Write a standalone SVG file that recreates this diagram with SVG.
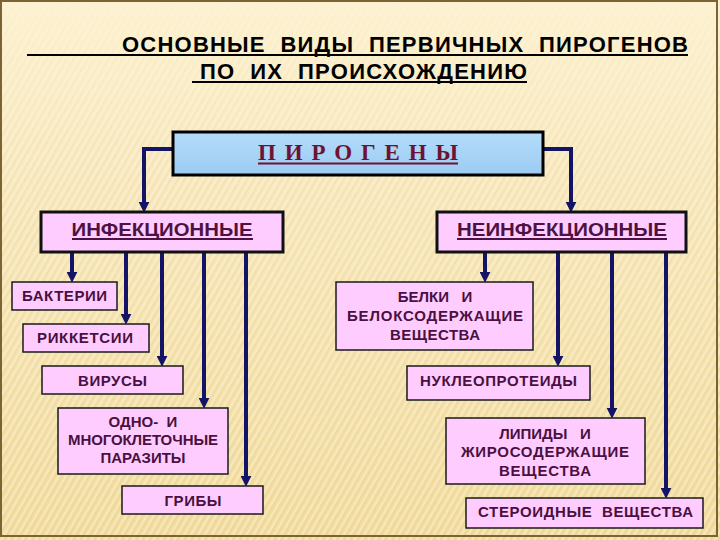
<svg xmlns="http://www.w3.org/2000/svg" width="720" height="540" viewBox="0 0 720 540">
  <defs>
    <linearGradient id="bg" x1="0" y1="0" x2="0" y2="1">
      <stop offset="0" stop-color="#fdf2d2"/>
      <stop offset="0.35" stop-color="#f8e8bc"/>
      <stop offset="1" stop-color="#f2dc9e"/>
    </linearGradient>
    <linearGradient id="blue" x1="0" y1="0" x2="0" y2="1">
      <stop offset="0" stop-color="#b4dcfa"/>
      <stop offset="1" stop-color="#9ccbf2"/>
    </linearGradient>
    <linearGradient id="fade" x1="0" y1="0" x2="0" y2="1">
      <stop offset="0" stop-color="#fff" stop-opacity="0.15"/>
      <stop offset="0.3" stop-color="#fff" stop-opacity="0.8"/>
      <stop offset="1" stop-color="#fff" stop-opacity="1"/>
    </linearGradient>
    <mask id="m">
      <rect x="0" y="0" width="720" height="540" fill="url(#fade)"/>
    </mask>
    <pattern id="stripes" width="6" height="6" patternUnits="userSpaceOnUse" patternTransform="rotate(30)">
      <rect x="0" y="0" width="2" height="6" fill="#ffffff" opacity="0.3"/>
      <rect x="3" y="0" width="1" height="6" fill="#c8a860" opacity="0.15"/>
    </pattern>
    <marker id="arr" viewBox="0 0 10 10" markerWidth="11" markerHeight="11" markerUnits="userSpaceOnUse" refX="2" refY="5" orient="auto">
      <path d="M0,0 L10,5 L0,10 Z" fill="#141466"/>
    </marker>
    <style>
      .title { font-family: "Liberation Sans", Arial, sans-serif; font-weight: bold; font-size: 22px; fill: #000; white-space: pre; }
      .ul { stroke: #000; stroke-width: 2; }
      .box { fill: #ffccff; stroke: #1a1a1a; stroke-width: 1.5; }
      .hbox { fill: #ffccff; stroke: #111; stroke-width: 3; }
      .head { font-family: "Liberation Sans", Arial, sans-serif; font-weight: bold; font-size: 19px; fill: #4e1242; text-anchor: middle; }
      .hul { stroke: #4e1242; stroke-width: 1.8; }
      .lbl { font-family: "Liberation Sans", Arial, sans-serif; font-weight: bold; font-size: 15px; fill: #4a1040; text-anchor: middle; white-space: pre; }
      .conn { fill: none; stroke: #141466; stroke-width: 4; marker-end: url(#arr); }
    </style>
  </defs>

  <rect x="0" y="0" width="720" height="540" fill="url(#bg)"/>
  <rect x="0" y="0" width="720" height="540" fill="url(#stripes)" mask="url(#m)"/>
  <rect x="1" y="1" width="716" height="535" fill="none" stroke="#7a6434" stroke-width="2"/>

  <g id="title">
    <text class="title" x="122" y="52" textLength="566" lengthAdjust="spacing">ОСНОВНЫЕ  ВИДЫ  ПЕРВИЧНЫХ  ПИРОГЕНОВ</text>
    <line class="ul" x1="27" y1="55" x2="688" y2="55"/>
    <text class="title" x="200" y="79" textLength="327" lengthAdjust="spacing">ПО  ИХ  ПРОИСХОЖДЕНИЮ</text>
    <line class="ul" x1="192" y1="82" x2="527" y2="82"/>
  </g>

  <g id="connectors">
    <path class="conn" d="M173,149 H144 V204"/>
    <path class="conn" d="M543,149 H571 V204"/>
    <path class="conn" d="M72,252 V274"/>
    <path class="conn" d="M126,252 V316"/>
    <path class="conn" d="M162,252 V358"/>
    <path class="conn" d="M204,252 V400"/>
    <path class="conn" d="M246,252 V478"/>
    <path class="conn" d="M485,252 V274"/>
    <path class="conn" d="M558,252 V358"/>
    <path class="conn" d="M612,252 V410"/>
    <path class="conn" d="M666,252 V490"/>
  </g>

  <g id="pirogeny">
    <rect x="173" y="132" width="370" height="43" fill="url(#blue)" stroke="#000" stroke-width="3"/>
    <text x="358" y="160" text-anchor="middle" font-family="'Liberation Serif', 'Times New Roman', serif" font-weight="bold" font-size="23" fill="#6e1234" style="white-space:pre" textLength="200" lengthAdjust="spacing">П И Р О Г Е Н Ы</text>
    <line x1="258" y1="163.5" x2="458" y2="163.5" stroke="#6e1234" stroke-width="2"/>
  </g>

  <g id="infekc">
    <rect class="hbox" x="41" y="212" width="242" height="40"/>
    <text class="head" x="162" y="236" textLength="181" lengthAdjust="spacingAndGlyphs">ИНФЕКЦИОННЫЕ</text>
    <line class="hul" x1="72" y1="239" x2="253" y2="239"/>
  </g>
  <g id="neinfekc">
    <rect class="hbox" x="437" y="212" width="249" height="40"/>
    <text class="head" x="562" y="236" textLength="210" lengthAdjust="spacingAndGlyphs">НЕИНФЕКЦИОННЫЕ</text>
    <line class="hul" x1="457" y1="239" x2="667" y2="239"/>
  </g>

  <g id="bakterii">
    <rect class="box" x="12" y="282" width="105" height="28"/>
    <text class="lbl" x="64.5" y="301" textLength="85">БАКТЕРИИ</text>
  </g>
  <g id="rikketsii">
    <rect class="box" x="23" y="324" width="126" height="28"/>
    <text class="lbl" x="85" y="343" textLength="96">РИККЕТСИИ</text>
  </g>
  <g id="virusy">
    <rect class="box" x="42" y="366" width="141" height="28"/>
    <text class="lbl" x="112.5" y="386" textLength="69">ВИРУСЫ</text>
  </g>
  <g id="parazity">
    <rect class="box" x="58" y="408" width="170" height="66"/>
    <text class="lbl" x="143" y="427">ОДНО-  И</text>
    <text class="lbl" x="143" y="445" textLength="150">МНОГОКЛЕТОЧНЫЕ</text>
    <text class="lbl" x="143" y="463" textLength="85">ПАРАЗИТЫ</text>
  </g>
  <g id="griby">
    <rect class="box" x="122" y="486" width="141" height="28"/>
    <text class="lbl" x="193" y="506" textLength="57">ГРИБЫ</text>
  </g>

  <g id="belki">
    <rect class="box" x="336" y="282" width="197" height="68"/>
    <text class="lbl" x="435" y="302">БЕЛКИ   И</text>
    <text class="lbl" x="435" y="321" textLength="176">БЕЛОКСОДЕРЖАЩИЕ</text>
    <text class="lbl" x="435" y="340" textLength="90">ВЕЩЕСТВА</text>
  </g>
  <g id="nukleoproteidy">
    <rect class="box" x="407" y="366" width="183" height="34"/>
    <text class="lbl" x="498.5" y="386" textLength="157">НУКЛЕОПРОТЕИДЫ</text>
  </g>
  <g id="lipidy">
    <rect class="box" x="446" y="418" width="199" height="66"/>
    <text class="lbl" x="545" y="439">ЛИПИДЫ   И</text>
    <text class="lbl" x="545" y="457" textLength="168">ЖИРОСОДЕРЖАЩИЕ</text>
    <text class="lbl" x="545" y="476" textLength="92">ВЕЩЕСТВА</text>
  </g>
  <g id="steroidy">
    <rect class="box" x="466" y="498" width="237" height="30"/>
    <text class="lbl" x="585.5" y="517" textLength="215">СТЕРОИДНЫЕ  ВЕЩЕСТВА</text>
  </g>
</svg>
